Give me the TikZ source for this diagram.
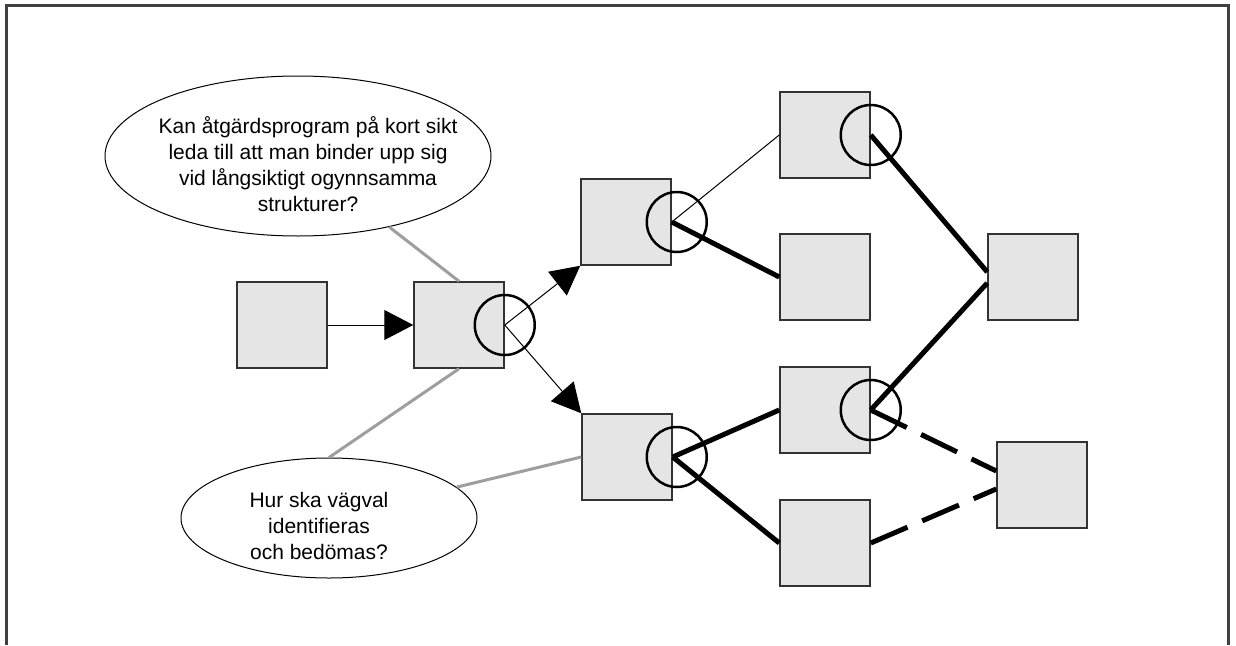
\documentclass[tikz,border=0pt]{standalone}
\usepackage{fontspec}
\setmainfont{Liberation Sans}
\usetikzlibrary{arrows.meta,positioning,shapes.geometric}

\begin{document}
\begin{tikzpicture}[
	x=1pt,y=-1pt,
	box/.style={draw=black!80,line width=1.5pt,fill=black!10,minimum width=90pt,minimum height=86pt,inner sep=0pt},
	ring/.style={draw,circle,line width=2.5pt,minimum size=60pt,inner sep=0pt},
	bubble/.style={draw,ellipse,line width=1pt,inner sep=0pt},
	qtext/.style={align=center,font=\fontsize{21}{26}\selectfont,inner sep=0pt},
	faint/.style={line width=1pt},
	strong/.style={line width=5pt},
	maybe/.style={line width=5pt,dash pattern=on 40pt off 16pt},
	hint/.style={black!38,line width=3pt},
	pick/.style={-{Triangle[length=29pt,width=30pt]},line width=1pt}
	]
	\useasboundingbox (0,0) rectangle (1236,645);
	
	% Frame, open at the bottom
	\draw[black!75,line width=3pt] (6,645) -- (6,5) -- (1228,5) -- (1228,645);
	
	% Question bubbles
	\node[bubble,minimum width=386pt,minimum height=160pt] (q1) at (298,156) {};
	\node[qtext] (q1t) at (308,164) {Kan åtgärdsprogram på kort sikt\\leda till att man binder upp sig\\vid långsiktigt ogynnsamma\\strukturer?};
	\node[bubble,minimum width=296pt,minimum height=120pt] (q2) at (329,518) {};
	\node[qtext] (q2t) at (319,526) {Hur ska vägval\\identifieras\\och bedömas?};
	
	% Decision tree
	\node[box] (s0) at (282,325) {};
	\node[box] (s1) at (459,325) {};
	\node[box] (s2u) at (626,222) {};
	\node[box] (s2d) at (627,457) {};
	\node[box] (s3a) at (825,135) {};
	\node[box] (s3b) at (825,277) {};
	\node[box] (s3c) at (825,410) {};
	\node[box] (s3d) at (825,543) {};
	\node[box] (s4u) at (1033,277) {};
	\node[box] (s4d) at (1042,485) {};
	
	% Choice points
	\node[ring] (r1) at (s1.east) {};
	\node[ring] (r2u) at ([xshift=5pt]s2u.east) {};
	\node[ring] (r2d) at ([xshift=4pt]s2d.east) {};
	\node[ring] (r3a) at (s3a.east) {};
	\node[ring] (r3c) at (s3c.east) {};
	
	% Questions to the tree
	\draw[hint] (s1.north) -- (q1);
	\draw[hint] (s1.south) -- (q2.north);
	\draw[hint] (s2d.west) -- (q2);
	
	% First steps
	\draw[pick] (s0) -- (s1);
	\draw[pick] (s1.east) -- (s2u.south west);
	\draw[pick] (s1.east) -- (s2d.north west);
	
	% Paths
	\draw[faint] (s2u.east) -- (s3a.west);
	\draw[strong] (s2u.east) -- (s3b.west);
	\draw[strong] (s3a.east) -- ([yshift=5pt]s4u.west);
	\draw[strong] (s2d.east) -- (s3c.west);
	\draw[strong] (s2d.east) -- (s3d.west);
	\draw[strong] (s3c.east) -- ([yshift=-6pt]s4u.west);
	\draw[maybe] (s3c.east) -- ([yshift=14pt]s4d.west);
	\draw[maybe] (s3d.east) -- ([yshift=-4pt]s4d.west);
	
\end{tikzpicture}
\end{document}
